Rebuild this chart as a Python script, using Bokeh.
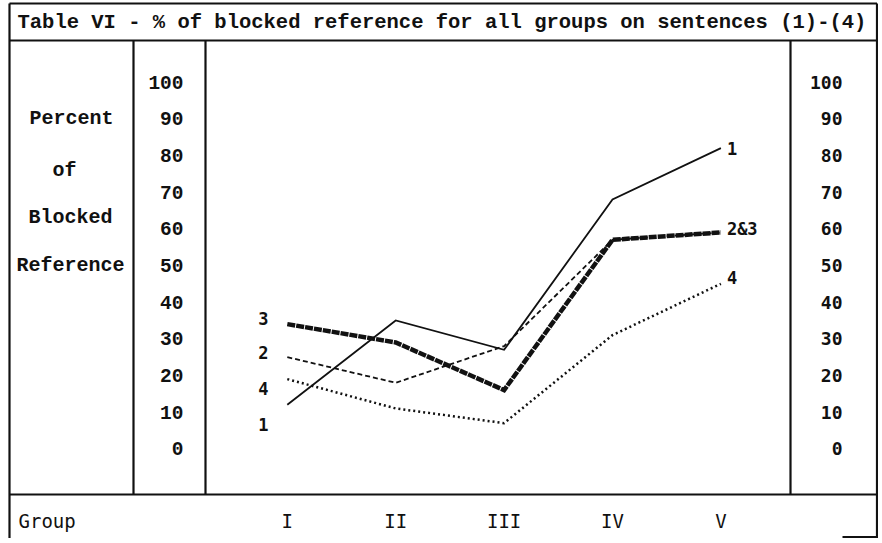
from bokeh.plotting import figure
from bokeh.models import Range1d
from bokeh.core.properties import value
from bokeh.embed import file_html
from bokeh.resources import INLINE

# ---------------- data ----------------
title_text = "Table VI - % of blocked reference for all groups on sentences (1)-(4)"
groups = ["I", "II", "III", "IV", "V"]
sentence_1 = [12, 35, 27, 68, 82]
sentence_2 = [25, 18, 28, 57, 59]
sentence_3 = [34, 29, 16, 57, 59]
sentence_4 = [19, 11, 7, 31, 45]
ticks = [0, 10, 20, 30, 40, 50, 60, 70, 80, 90, 100]
tick_labels = ["0", "10", "20", "30", "40", "50", "60", "70", "80", "90", "100"]
y_title_lines = ["Percent", "of", "Blocked", "Reference"]
x_title = "Group"

# ---------------- layout geometry (pixels) ----------------
W, H = 878, 538
OFF = 0
MID_PX, STEP_PX = 503.6, 108.4      # centre group position and spacing
ZERO_PX, PX_PER_PCT = 448.3, 3.667  # 0 % level and pixels per percent
xs = list(range(1, len(groups) + 1))
mid = (len(groups) + 1) / 2


def gx(px):
    return mid + (px - MID_PX) / STEP_PX


def gy(py):
    return (ZERO_PX - py) / PX_PER_PCT


INK = "#111111"

p = figure(width=W, height=H,
           x_range=Range1d(gx(OFF), gx(OFF + W)),
           y_range=Range1d(gy(OFF + H), gy(OFF)),
           output_backend="svg", toolbar_location=None,
           x_axis_location=None, y_axis_location=None,
           min_border=0, outline_line_color=None,
           background_fill_color="white", border_fill_color="white")
p.grid.visible = False

# ---------------- table rules ----------------
L, R, T, B = 9, 876.5, 3, 538
rules = [
    (L, T, R, T), (L, T, L, B), (R, T, R, B),
    (L, 40, R, 40), (L, 494, R, 494),
    (133, 40, 133, 494), (205, 40, 205, 494), (790, 40, 790, 494),
    (842, 536.5, R, 536.5),
]
p.segment(x0=[gx(r[0]) for r in rules], y0=[gy(r[1]) for r in rules],
          x1=[gx(r[2]) for r in rules], y1=[gy(r[3]) for r in rules],
          line_color=INK, line_width=2.2)

# ---------------- data lines ----------------
p.line(xs, sentence_3, line_color=INK, line_width=4.5, line_dash="8 1", line_join="miter")
p.line(xs, sentence_2, line_color=INK, line_width=1.8, line_dash="5 3", line_join="miter")
p.line(xs, sentence_4, line_color=INK, line_width=2.5, line_dash="2 3", line_join="miter")
p.line(xs, sentence_1, line_color=INK, line_width=1.8, line_join="miter")

# series labels
lab_font = value("DejaVu Sans Mono")
p.text(x=[xs[0]] * 4,
       y=[sentence_3[0], sentence_2[0], sentence_4[0], sentence_1[0]],
       text=["3", "2", "4", "1"], x_offset=-24, y_offset=[-6, -5, 9, 20],
       text_align="center", text_baseline="middle", text_font=lab_font,
       text_font_style="bold", text_font_size="17px", text_color=INK)
p.text(x=[xs[-1]] * 3,
       y=[sentence_1[-1], sentence_2[-1], sentence_4[-1]],
       text=["1", "2&3", "4"], x_offset=6, y_offset=[0, -3, -6],
       text_align="left", text_baseline="middle", text_font=lab_font,
       text_font_style="bold", text_font_size="17px", text_color=INK)

# ---------------- texts ----------------
mono = value("Liberation Mono")
p.text(x=[gx(17)], y=[gy(22)], text=[title_text], text_align="left",
       text_baseline="middle", text_font=mono, text_font_style="bold",
       text_font_size="20.5px", text_color=INK)

p.text(x=[gx(c) for c in (71, 64, 70, 70)],
       y=[gy(c) for c in (118, 170, 217, 265)],
       text=y_title_lines, text_align="center", text_baseline="middle",
       text_font=mono, text_font_style="bold", text_font_size="20px",
       text_color=INK)

p.text(x=[gx(183)] * len(ticks), y=ticks, text=tick_labels,
       text_align="right", text_baseline="middle", text_font=mono,
       text_font_style="bold", text_font_size="19.5px", text_color=INK)

p.text(x=[gx(842)] * len(ticks), y=ticks, text=tick_labels,
       text_align="right", text_baseline="middle",
       text_font=value("DejaVu Sans Mono"), text_font_style="bold",
       text_font_size="18px", text_color=INK)

p.text(x=[gx(18)], y=[gy(520)], text=[x_title], text_align="left",
       text_baseline="middle", text_font=value("DejaVu Sans Mono"),
       text_font_size="19px", text_color=INK)
p.text(x=xs, y=[gy(520)] * len(xs), text=groups, text_align="center",
       text_baseline="middle", text_font=value("DejaVu Sans Mono"),
       text_font_size="19px", text_color=INK)

open("out.html", "w").write(file_html(p, INLINE))
